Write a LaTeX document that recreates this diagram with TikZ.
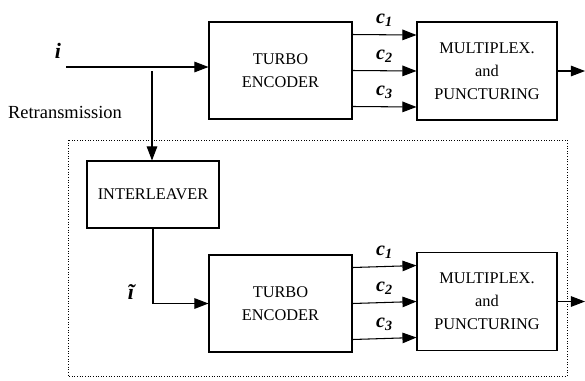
\documentclass[tikz,border=0pt]{standalone}
\usepackage{fontspec}
\setmainfont{Liberation Serif}
\usetikzlibrary{arrows.meta,positioning}

\begin{document}
\begin{tikzpicture}[x=0.02cm,y=-0.02cm,
every node/.style={font=\fontsize{9.3}{13}\selectfont},
blk/.style={draw,line width=0.6pt,align=center,inner sep=0pt},
sig/.style={line width=0.6pt,-{Triangle[length=8pt,width=6pt]}},
lbl/.style={font=\fontsize{11.5}{13}\selectfont\bfseries\itshape}]
\useasboundingbox (0,0) rectangle (585,380);
\draw[densely dotted,line width=0.5pt] (68,140) rectangle (567,376);
\node[blk,minimum width=2.86cm,minimum height=1.94cm] (T1) at (280.5,70.5) {TURBO\\ENCODER};
\node[blk,minimum width=2.8cm,minimum height=1.96cm] (M1) at (487,71) {MULTIPLEX.\\and\\PUNCTURING};
\node[blk,minimum width=2.64cm,minimum height=1.34cm] (IL) at (153,194.5) {INTERLEAVER};
\node[blk,minimum width=2.86cm,minimum height=1.94cm] (T2) at (280.5,303.5) {TURBO\\ENCODER};
\node[blk,minimum width=2.8cm,minimum height=1.96cm] (M2) at (487,301.5) {MULTIPLEX.\\and\\PUNCTURING};
\node[lbl,font=\fontsize{12.5}{13}\selectfont\bfseries\itshape] (i) at (58,51) {i};
\node[font=\fontsize{10.5}{13}\selectfont] (retx) at (65,112) {Retransmission};
\node[lbl,font=\fontsize{12.5}{13}\selectfont\bfseries\itshape] (it) at (131,292) {ĩ};
\coordinate (in) at (66,67);
\coordinate (br) at (152,71);
\coordinate (out1) at (585,71);
\coordinate (out2) at (585,301.5);
\draw[sig] (in) -- (in -| T1.west);
\draw[sig] (br) -- (br |- IL.north);
\draw[sig] (IL.south) |- (T2.west);
\foreach \k/\dy in {1/0.72,2/0,3/-0.72} {
\draw[sig] ([yshift=\dy cm]T1.east) -- node[lbl,above=1pt] {c\textsubscript{\k}} ([yshift=\dy cm]M1.west);
\draw[sig] ([yshift=\dy cm]T2.east) -- node[lbl,above=1pt] {c\textsubscript{\k}} ([yshift=\dy cm]M2.west);
}
\draw[sig] (M1.east) -- (out1);
\draw[sig] (M2.east) -- (out2);
\end{tikzpicture}
\end{document}
